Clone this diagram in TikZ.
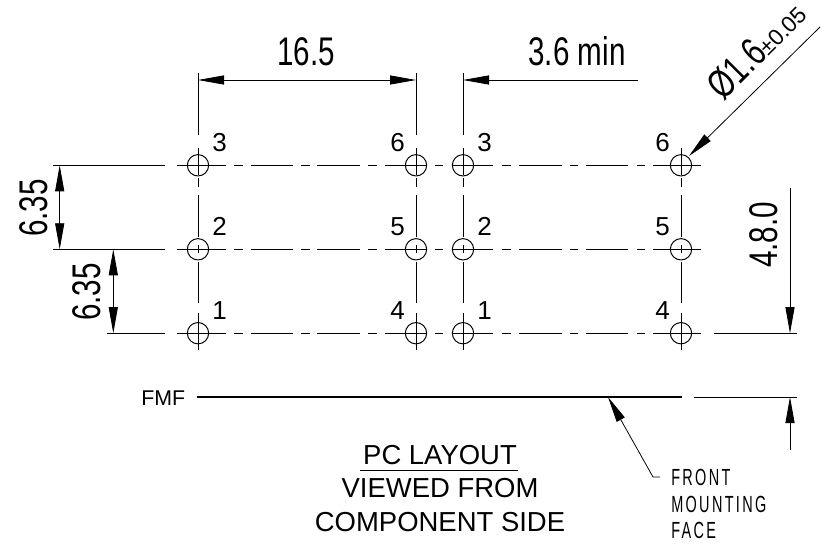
\documentclass[tikz,border=0pt]{standalone}
\usepackage{fontspec}
\usetikzlibrary{arrows.meta}
\setmainfont{Liberation Sans}
\newfontfamily\narrowfont[FakeStretch=0.74]{Liberation Sans}
\newfontfamily\leaderfont[FakeStretch=0.62,LetterSpace=10]{Liberation Sans}
\newcommand{\pxfont}[1]{\fontsize{#1}{#1}\selectfont}
\tikzset{
  thin line/.style={line width=0.6pt,black},
  thick line/.style={line width=1pt,black},
  hole/.style={circle,draw=black,line width=0.75pt,minimum size=16pt,inner sep=0pt},
  dimtip/.style={-{Triangle[length=19.5pt,width=6.8pt]}},
  bothtips/.style={{Triangle[length=19.5pt,width=6.8pt]}-{Triangle[length=19.5pt,width=6.8pt]}},
  bigtext/.style={inner sep=0pt,font=\narrowfont\pxfont{30pt},anchor=base},
  pinno/.style={inner sep=0pt,font=\pxfont{19.5pt}},
  title/.style={inner sep=0pt,anchor=base,font=\pxfont{20.6pt}},
  leadertext/.style={inner sep=0pt,anchor=base west,font=\leaderfont\pxfont{17.5pt}},
}
\begin{document}
\begin{tikzpicture}[x=0.75pt,y=-0.75pt]
\useasboundingbox (0,0) rectangle (821,549);
% holes
\foreach \n/\x in {a/198,b/416,c/463,d/681}
  \foreach \m/\y in {t/165.3,m/249.3,l/333.2}
    \node[hole] (\n\m) at (\x,\y) {};
% horizontal centre lines
\foreach \y in {165.3,249.3,333.2}
  \foreach \s/\e in {177/226,234/243,251/293,301/310,317/360,368/377,385/427,435/443,452/493,502/511,519/562,570/578,586/628,637/645,653/701}
    \draw[thick line] (\s,\y) -- (\e,\y);
% vertical centre lines
\foreach \x in {198,416,463,681}
  \foreach \s/\e in {148/175,178/187,195/237,245/253,262/303,313/350}
    \draw[thin line] (\x,\s) -- (\x,\e);
% extension lines
\draw[thin line] (198,73) -- (198,135);
\draw[thin line] (416,73) -- (416,135);
\draw[thin line] (463,73) -- (463,135);
\draw[thick line] (53,165.3) -- (165,165.3);
\draw[thick line] (53,249.3) -- (165,249.3);
\draw[thick line] (107,333.2) -- (165,333.2);
\draw[thick line] (714,333.2) -- (797,333.2);
% FMF line
\draw[line width=1.1pt] (197,397) -- (682,397);
\draw[thin line] (694,397) -- (797,397);
% dimensions
\coordinate (d165l) at (198,80); \coordinate (d165r) at (416,80);
\draw[thin line,bothtips] (d165l) -- (d165r);
\coordinate (d36s) at (638,80); \coordinate (d36e) at (463,80);
\draw[thin line,dimtip] (d36s) -- (d36e);
\coordinate (d635a) at (59.7,165.3); \coordinate (d635b) at (59.7,249.3);
\draw[thin line,bothtips] (d635a) -- (d635b);
\coordinate (d635c) at (113.3,249.3); \coordinate (d635d) at (113.3,333.2);
\draw[thin line,bothtips] (d635c) -- (d635d);
\coordinate (d48s) at (790,188); \coordinate (d48e) at (790,333.2);
\draw[thin line,dimtip] (d48s) -- (d48e);
\coordinate (d48us) at (790,450); \coordinate (d48ue) at (790,397);
\draw[thin line,dimtip] (d48us) -- (d48ue);
% diameter leader
\coordinate (dias) at (820,27); \coordinate (diae) at (689,156);
\draw[thin line,dimtip] (dias) -- (diae);
% FMF leader
\coordinate (fa) at (660,477); \coordinate (fb) at (653,477); \coordinate (fc) at (608,397);
\draw[thin line,dimtip] (fa) -- (fb) -- (fc);
% big labels
\node[bigtext] (t165) at (306,66) {16.5};
\node[bigtext] (t36) at (577,66) {3.6 min};
\node[bigtext,rotate=90] (t635a) at (47,208) {6.35};
\node[bigtext,rotate=90] (t635b) at (100,292) {6.35};
\node[bigtext,rotate=90] (t48) at (777,235) {4.8.0};
\node[bigtext,rotate=45] (tdia) at (766,59) {Ø1.6{\normalfont\pxfont{17pt}±0.05}};
% pin numbers
\foreach \n/\t/\x/\y in {p1/3/212/152,p2/2/212/235,p3/1/212/319,p4/3/477/152,p5/2/477/235,p6/1/477/319,p7/6/390/152,p8/5/390/235,p9/4/390/319,p10/6/655/152,p11/5/655/235,p12/4/655/319}
  \node[pinno,anchor=base west] (\n) at (\x,\y) {\t};
% texts
\node[inner sep=0pt,anchor=base west,font=\pxfont{16pt}] (fmf) at (141,405) {FMF};
\node[title] (pc) at (440,464) {PC LAYOUT};
\node[title] (vw) at (440,497) {VIEWED FROM};
\node[title] (cs) at (440,531) {COMPONENT SIDE};
\coordinate (ul) at (360,470); \coordinate (ur) at (518,470);
\draw[thin line] (ul) -- (ur);
\node[leadertext] (lf) at (671,485) {FRONT};
\node[leadertext] (lm) at (671,512) {MOUNTING};
\node[leadertext] (lc) at (671,538) {FACE};
\end{tikzpicture}
\end{document}
